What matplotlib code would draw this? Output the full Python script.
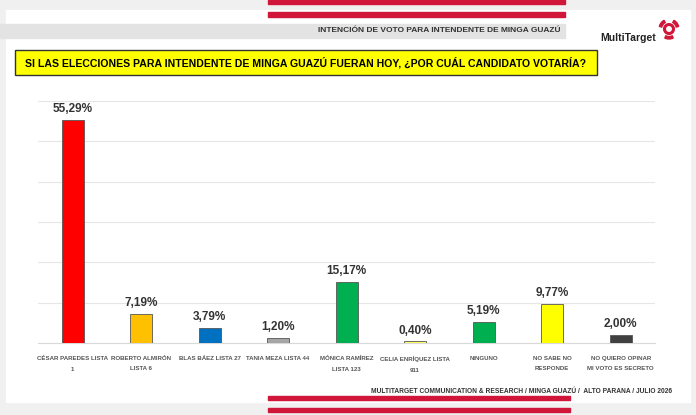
import matplotlib.pyplot as plt
from matplotlib.patches import Rectangle, Circle, Wedge

plt.rcParams['font.family'] = ['Liberation Sans', 'DejaVu Sans']

# datos
candidatos = ["CÉSAR PAREDES LISTA\n1", "ROBERTO ALMIRÓN\nLISTA 6", "BLAS BÁEZ LISTA 27",
              "TANIA MEZA LISTA 44", "MÓNICA RAMÍREZ\nLISTA 123", "CELIA ENRÍQUEZ LISTA\n911",
              "NINGUNO", "NO SABE NO\nRESPONDE", "NO QUIERO OPINAR\nMI VOTO ES SECRETO"]
votos = [55.29, 7.19, 3.79, 1.20, 15.17, 0.40, 5.19, 9.77, 2.00]
colores = ["#FF0000", "#FFC000", "#0070C0", "#A5A5A5", "#00B050", "#FFFF66",
           "#00B050", "#FFFF00", "#404040"]

fig = plt.figure(figsize=(6.96, 4.15), dpi=100)
fig.patch.set_facecolor("white")

# fondo / marcos
bg = fig.add_axes([0, 0, 1, 1])
bg.set_xlim(0, 696)
bg.set_ylim(415, 0)
bg.axis("off")
bg.add_patch(Rectangle((0, 0), 696, 415, color="#f0f0f0"))
bg.add_patch(Rectangle((6, 10), 684, 392, color="white"))
bg.add_patch(Rectangle((268, 0), 297, 4, color="#d0173a"))
bg.add_patch(Rectangle((268, 12), 297, 5, color="#d0173a"))
bg.add_patch(Rectangle((0, 24), 565, 14, color="#e3e3e3"))
bg.text(560, 31, "INTENCIÓN DE VOTO PARA INTENDENTE DE MINGA GUAZÚ", ha="right", va="center",
        fontsize=6, fontweight="bold", color="#333333")
# logo (eje y invertido: ángulos espejados)
bg.text(628, 38, "MultiTarget", ha="center", va="center", fontsize=7.5, fontweight="bold", color="#222222")
bg.add_patch(Circle((669, 29), 4.5, fill=False, ec="#d0173a", lw=2.2))
bg.add_patch(Wedge((669, 29), 10, 195, 240, width=2.5, color="#d0173a"))
bg.add_patch(Wedge((669, 29), 10, 300, 345, width=2.5, color="#d0173a"))
bg.add_patch(Wedge((669, 29), 10, 65, 115, width=2.5, color="#d0173a"))
# pregunta
bg.add_patch(Rectangle((15, 50), 582, 25, fc="#FFFF00", ec="#333333", lw=1))
bg.text(306, 62.5, "SI LAS ELECCIONES PARA INTENDENTE DE MINGA GUAZÚ FUERAN HOY, ¿POR CUÁL CANDIDATO VOTARÍA?",
        ha="center", va="center", fontsize=7.6, fontweight="bold", color="black")
# pie
bg.text(522, 391, "MULTITARGET COMMUNICATION & RESEARCH / MINGA GUAZÚ /  ALTO PARANA / JULIO 2026",
        ha="center", va="center", fontsize=4.8, fontweight="bold", color="#333333")
bg.add_patch(Rectangle((268, 396), 302, 4, color="#d0173a"))
bg.add_patch(Rectangle((268, 408), 302, 4, color="#d0173a"))

ax = fig.add_axes([0.055, 0.1735, 0.886, 0.583])
x = range(len(votos))
ax.bar(x, votos, width=0.32, color=colores, edgecolor="#555555", linewidth=0.6, zorder=3)
for i, v in enumerate(votos):
    ax.text(i, v + 1.2, f"{v:.2f}%".replace(".", ","), ha="center", va="bottom",
            fontsize=8.5, fontweight="bold", color="#333333")
ax.set_ylim(0, 60)
ax.set_xlim(-0.5, len(votos) - 0.5)
ax.set_yticks(range(0, 61, 10))
ax.yaxis.grid(True, color="#e6e6e6", lw=0.8, zorder=0)
ax.set_yticklabels([])
ax.tick_params(left=False, bottom=False, pad=6)
ax.set_xticks(list(x))
ax.set_xticklabels(candidatos, fontsize=4.4, fontweight="bold", color="#555555", linespacing=2.3, va="top")
for s in ["left", "right", "top"]:
    ax.spines[s].set_visible(False)
ax.spines["bottom"].set_color("#d9d9d9")

fig.savefig("out.png", dpi=100)
